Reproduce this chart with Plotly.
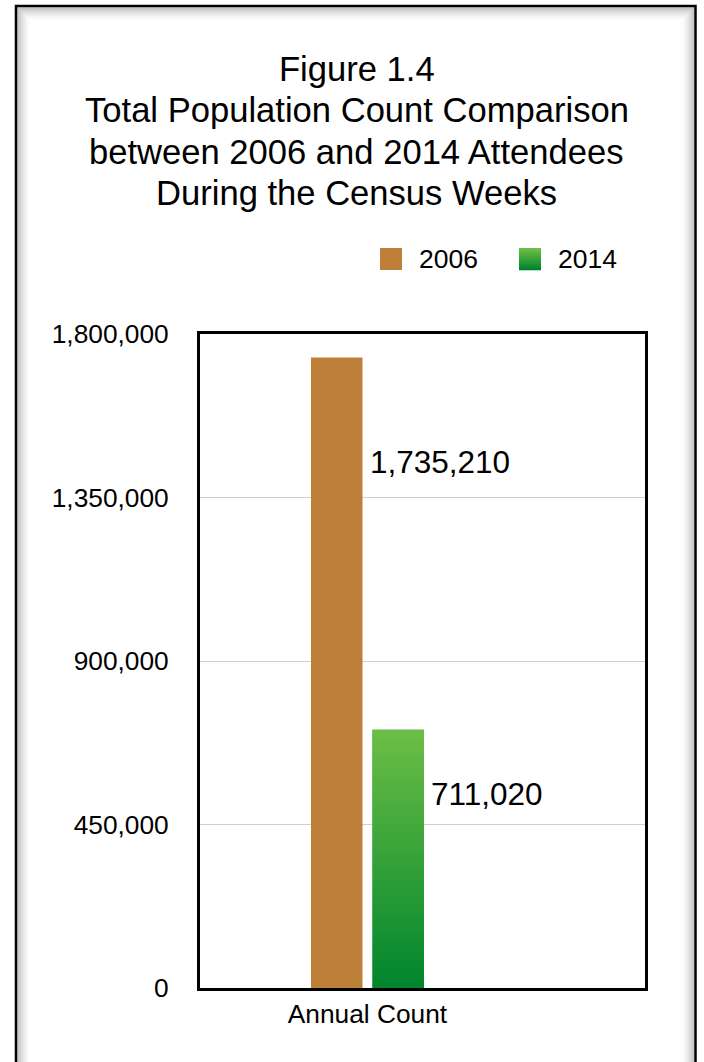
import plotly.graph_objects as go

# ---- data ----
categories = ["Annual Count"]
series_names = ["2006", "2014"]
values = [1735210, 711020]
y_ticks = [0, 450000, 900000, 1350000, 1800000]
y_tick_labels = ["0", "450,000", "900,000", "1,350,000", "1,800,000"]
title_lines = [
    "Figure 1.4",
    "Total Population Count Comparison",
    "between 2006 and 2014 Attendees",
    "During the Census Weeks",
]

# ---- style ----
FONT = "Liberation Sans, Arial, Helvetica, sans-serif"
COLOR_2006 = "#BE8038"
GREEN_TOP = (108, 190, 69)
GREEN_BOTTOM = (0, 133, 45)
W, H = 704, 1062
L, R, T, B = 200, 645, 334, 988          # plot area in pixels
SLOT = 61.5                               # pixels per x unit
X0 = 367.5                                # pixel of the category centre
BAR_W = 51.5 / SLOT
bar_x = [-0.5, 0.5]
label_drop = [104, 64]                    # label offset below bar top (px)


def px(x):
    return (x - L) / (R - L)


def py(y):
    return (B - y) / (B - T)


def rgb(c):
    return "rgb(%d,%d,%d)" % c


fig = go.Figure()

# 2006 bar
fig.add_trace(go.Bar(
    x=[bar_x[0]], y=[values[0]], width=BAR_W, name=series_names[0],
    marker=dict(color=COLOR_2006, line=dict(width=0)), showlegend=False,
))
# 2014 bar, with a vertical gradient fill laid over it
fig.add_trace(go.Bar(
    x=[bar_x[1]], y=[values[1]], width=BAR_W, name=series_names[1],
    marker=dict(color=rgb(GREEN_BOTTOM), line=dict(width=0)), showlegend=False,
))
xl, xr = bar_x[1] - BAR_W / 2, bar_x[1] + BAR_W / 2
fig.add_trace(go.Scatter(
    x=[xl, xr, xr, xl, xl], y=[0, 0, values[1], values[1], 0],
    mode="lines", line=dict(width=0), fill="toself",
    fillgradient=dict(type="vertical",
                      colorscale=[[0, rgb(GREEN_BOTTOM)], [1, rgb(GREEN_TOP)]]),
    hoverinfo="skip", showlegend=False,
))

annotations = []
shapes = []

# value labels beside each bar
for xv, v, drop in zip(bar_x, values, label_drop):
    annotations.append(dict(
        x=xv + BAR_W / 2, y=v, xref="x", yref="y", text=f"{v:,}",
        xanchor="left", yanchor="middle", xshift=5, yshift=-drop,
        showarrow=False, font=dict(family=FONT, size=31.5, color="#000"),
    ))

# title lines
for i, line in enumerate(title_lines):
    annotations.append(dict(
        x=px(356.5), y=py(69 + 41.3 * i), xref="paper", yref="paper", text=line,
        xanchor="center", yanchor="middle", showarrow=False,
        font=dict(family=FONT, size=34.6, color="#000"),
    ))

# legend
legend_x = [380, 519]
for name, lx in zip(series_names, legend_x):
    if name == "2006":
        shapes.append(dict(type="rect", xref="paper", yref="paper",
                           x0=px(lx), x1=px(lx + 22), y0=py(270), y1=py(248),
                           fillcolor=COLOR_2006, line=dict(width=0)))
    else:
        n = 11
        for k in range(n):
            t = k / (n - 1)
            c = tuple(round(GREEN_TOP[j] + (GREEN_BOTTOM[j] - GREEN_TOP[j]) * t) for j in range(3))
            y0 = 248 + 22 * k / n
            shapes.append(dict(type="rect", xref="paper", yref="paper",
                               x0=px(lx), x1=px(lx + 22), y0=py(y0 + 22 / n + 0.3), y1=py(y0),
                               fillcolor=rgb(c), line=dict(width=0)))
    annotations.append(dict(
        x=px(lx + 37), y=py(259), xref="paper", yref="paper", text=name,
        xanchor="left", yanchor="middle", showarrow=False,
        font=dict(family=FONT, size=26.5, color="#000"),
    ))

# outer frame with a soft inner shadow
fx0, fx1, fy0, fy1 = 16, 695.5, 6, 1120
for i in range(1, 15):
    a = 0.24 * (1 - i / 15) ** 1.8
    shapes.append(dict(type="rect", xref="paper", yref="paper", layer="below",
                       x0=px(fx0 + 0.8 + i), x1=px(fx1 - 0.8 - i),
                       y0=py(fy1), y1=py(fy0 + 0.8 + i),
                       line=dict(color=f"rgba(0,0,0,{a:.3f})", width=1.2)))
shapes.append(dict(type="rect", xref="paper", yref="paper",
                   x0=px(fx0), x1=px(fx1), y0=py(fy1), y1=py(fy0),
                   line=dict(color="#000", width=2.5)))

fig.update_layout(
    width=W, height=H,
    margin=dict(l=L, r=W - R, t=T, b=H - B, pad=0),
    paper_bgcolor="white", plot_bgcolor="white",
    showlegend=False, barmode="overlay",
    font=dict(family=FONT, color="#000"),
    annotations=annotations, shapes=shapes,
)
fig.update_xaxes(
    range=[(L - X0) / SLOT, (R - X0) / SLOT],
    tickvals=[0], ticktext=categories, ticks="", showgrid=False, zeroline=False,
    showline=True, mirror=True, linecolor="#000", linewidth=3,
    tickfont=dict(family=FONT, size=26.3, color="#000"), ticklabelstandoff=0,
    fixedrange=True,
)
fig.update_yaxes(
    range=[0, 1800000], tickvals=y_ticks, ticktext=y_tick_labels, ticks="",
    showgrid=True, gridcolor="#CFCFCF", gridwidth=1, zeroline=False,
    showline=True, mirror=True, linecolor="#000", linewidth=3,
    tickfont=dict(family=FONT, size=26.3, color="#000"), ticklabelstandoff=23,
    fixedrange=True,
)

fig.write_html("out.html")
